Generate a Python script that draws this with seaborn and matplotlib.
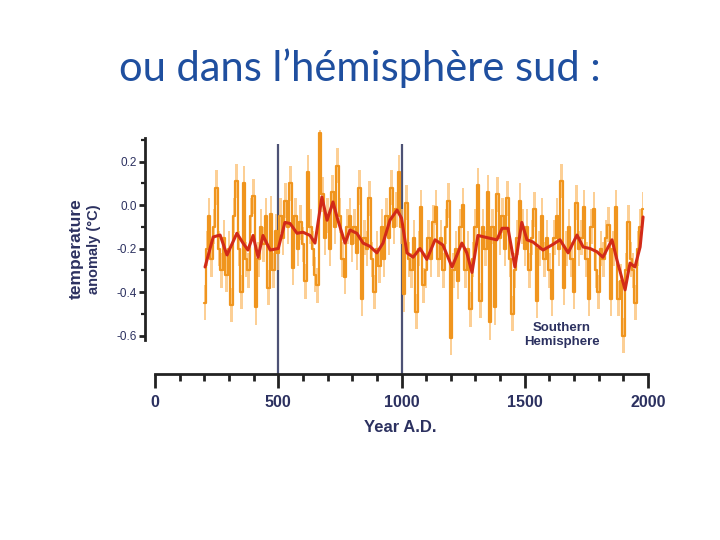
import numpy as np
import pandas as pd
import matplotlib
matplotlib.use("Agg")
import matplotlib.pyplot as plt
import seaborn as sns

# raw reconstruction, one value per decade (200 .. 1980 A.D.)
raw_years = list(range(200, 1990, 10))
raw_values = [
    -0.45, -0.20, -0.05, -0.25, -0.10, 0.08, -0.20, -0.30, -0.15, -0.32,
    -0.20, -0.46, -0.05, 0.11, -0.20, -0.40, 0.10, -0.25, -0.30, -0.05,
    0.04, -0.47, -0.25, -0.10, -0.18, -0.05, -0.38, -0.04, -0.30, -0.12,
    -0.22, -0.05, -0.15, 0.02, -0.10, 0.10, -0.29, -0.05, -0.20, -0.08,
    -0.18, -0.35, 0.15, -0.10, -0.20, -0.32, -0.37, 0.33, 0.05, -0.15,
    -0.05, -0.20, 0.06, -0.10, 0.18, -0.05, -0.25, -0.33, -0.10, -0.05,
    -0.18, -0.10, -0.22, 0.08, -0.43, -0.15, -0.20, 0.03, -0.25, -0.40,
    -0.20, -0.28, -0.10, -0.25, -0.05, -0.15, 0.08, -0.10, -0.02, 0.15,
    -0.10, -0.41, 0.01, -0.25, -0.30, -0.15, -0.49, -0.20, -0.01, -0.37,
    -0.30, -0.15, -0.25, -0.08, -0.01, -0.25, -0.15, -0.30, -0.10, 0.02,
    -0.61, -0.30, -0.20, -0.35, -0.10, 0.00, -0.30, -0.20, -0.48, -0.25,
    -0.10, 0.09, -0.44, -0.10, -0.20, 0.06, -0.54, -0.10, -0.47, 0.05,
    -0.15, -0.05, -0.20, 0.03, -0.25, -0.50, -0.30, -0.15, 0.02, -0.10,
    -0.20, -0.10, -0.30, -0.15, -0.02, -0.44, -0.20, -0.05, -0.25, -0.15,
    -0.30, -0.43, -0.15, -0.05, -0.20, 0.11, -0.38, -0.20, -0.10, -0.25,
    -0.40, 0.01, -0.20, -0.15, -0.01, -0.25, -0.43, -0.10, -0.02, -0.30,
    -0.40, -0.20, -0.25, -0.15, -0.09, -0.43, -0.20, -0.01, -0.43, -0.35,
    -0.60, -0.30, -0.08, -0.25, -0.30, -0.45, -0.20, -0.10, -0.02,
]

# smoothed curve (red)
smooth_years = [203, 236, 264, 292, 332, 357, 377, 398, 418, 438, 467, 500,
                527, 548, 576, 600, 629, 649, 677, 698, 722, 742, 771, 791,
                819, 844, 872, 900, 925, 953, 982, 1000, 1022, 1047, 1075,
                1103, 1136, 1168, 1205, 1245, 1265, 1286, 1310, 1347, 1387,
                1408, 1432, 1460, 1488, 1509, 1533, 1574, 1610, 1643, 1676,
                1712, 1737, 1765, 1793, 1817, 1854, 1874, 1907, 1927, 1947,
                1968, 1980]
smooth_values = [-0.285, -0.147, -0.138, -0.23, -0.13, -0.175, -0.207, -0.14,
                 -0.24, -0.14, -0.207, -0.20, -0.08, -0.085, -0.13, -0.125,
                 -0.14, -0.175, 0.037, -0.07, 0.014, -0.07, -0.175, -0.115,
                 -0.13, -0.175, -0.19, -0.22, -0.175, -0.07, -0.023, -0.06,
                 -0.22, -0.24, -0.20, -0.25, -0.16, -0.184, -0.285, -0.175,
                 -0.22, -0.31, -0.14, -0.15, -0.16, -0.107, -0.107, -0.285,
                 -0.08, -0.16, -0.17, -0.207, -0.184, -0.16, -0.22, -0.138,
                 -0.193, -0.20, -0.215, -0.24, -0.16, -0.253, -0.39, -0.267,
                 -0.285, -0.193, -0.055]

x_ticks = [0, 500, 1000, 1500, 2000]
y_ticks = [0.2, 0.0, -0.2, -0.4, -0.6]
y_ticklabels = ["0.2", "0.0", "-0.2", "-0.4", "-0.6"]
marker_years = [500, 1000]

INK = "#2c3160"
AXIS = "#222222"
ORANGE = "#f0951e"
LIGHT = "#fbbf72"
RED = "#d22a18"

sns.set_style("white")
plt.rcParams["font.family"] = ["Liberation Sans", "DejaVu Sans"]

fig = plt.figure(figsize=(7.2, 5.4), dpi=100)
ax = fig.add_axes([0.2153, 0.3074, 0.6847, 0.4519])

df_raw = pd.DataFrame({"year": raw_years, "value": raw_values})
df_smooth = pd.DataFrame({"year": smooth_years, "value": smooth_values})

ax.fill_between(df_raw["year"], df_raw["value"] - 0.08, df_raw["value"] + 0.08,
                step="mid", color=LIGHT, alpha=0.75, lw=0)
sns.lineplot(data=df_raw, x="year", y="value", ax=ax, color=ORANGE, lw=1.6,
             drawstyle="steps-mid")
sns.lineplot(data=df_smooth, x="year", y="value", ax=ax, color=RED, lw=2.2)

ax.vlines(marker_years, -0.777, 0.28, color="#4d5275", lw=1.6, zorder=0)

ax.set_xlim(0, 2000)
ax.set_ylim(-0.777, 0.345)
ax.set_xlabel("")
ax.set_ylabel("")

for side in ["top", "right"]:
    ax.spines[side].set_visible(False)
ax.spines["left"].set_position(("outward", 7))
ax.spines["left"].set_bounds(-0.62, 0.31)
ax.spines["bottom"].set_bounds(0, 2000)
for side in ["left", "bottom"]:
    ax.spines[side].set_color(AXIS)
    ax.spines[side].set_linewidth(2.0)

ax.set_xticks(x_ticks)
ax.set_xticks(range(100, 2000, 100), minor=True)
ax.set_xticklabels([str(t) for t in x_ticks], fontsize=11.5, color=INK,
                   fontweight="bold")
ax.set_yticks(y_ticks)
ax.set_yticks([0.3, 0.1, -0.1, -0.3, -0.5], minor=True)
ax.set_yticklabels(y_ticklabels, fontsize=8.5, color=INK)
ax.tick_params(bottom=True, left=True, which="both")
ax.tick_params(axis="x", which="major", direction="out", length=10, width=2,
               pad=5, color=AXIS)
ax.tick_params(axis="x", which="minor", direction="out", length=5, width=2,
               color=AXIS)
ax.tick_params(axis="y", which="major", direction="out", length=4, width=2,
               pad=2, color=AXIS)
ax.tick_params(axis="y", which="minor", direction="out", length=3, width=1.6,
               color=AXIS)

fig.text(400 / 720, 1 - 427 / 540, "Year A.D.", ha="center", va="center",
         fontsize=12, color=INK, fontweight="bold")
fig.text(76 / 720, 1 - 249 / 540, "temperature", rotation=90, ha="center",
         va="center", fontsize=12.5, color=INK, fontweight="bold")
fig.text(94 / 720, 1 - 249 / 540, "anomaly (°C)", rotation=90, ha="center",
         va="center", fontsize=10.5, color=INK, fontweight="bold")
fig.text(562 / 720, 1 - 335 / 540, "Southern\nHemisphere", ha="center",
         va="center", fontsize=9.5, color=INK, linespacing=1.15,
         fontweight="bold")

fig.text(0.5, 1 - 68 / 540, "ou dans l’hémisphère sud :", ha="center",
         va="center", fontsize=30, color="#1f4f9f",
         family=["Lato", "DejaVu Sans"])

fig.savefig("out.png", dpi=100)
